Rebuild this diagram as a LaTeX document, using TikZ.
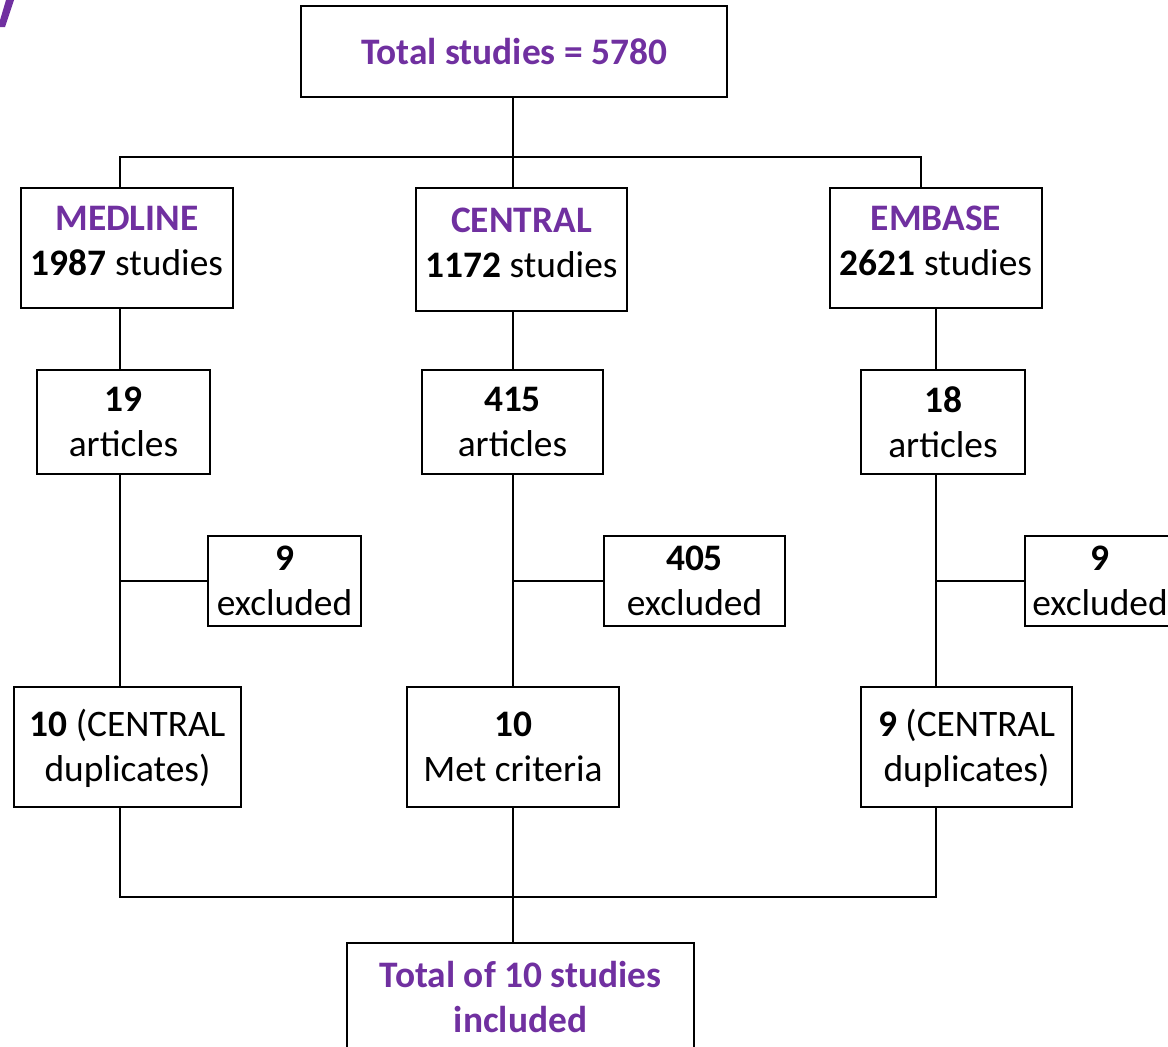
\documentclass[tikz,border=0pt]{standalone}
\usepackage{fontspec}
\setmainfont{Carlito}
\definecolor{titlepurple}{HTML}{7030A0}
\tikzset{
  box/.style={draw, line width=0.7pt, inner sep=0pt, align=center, font=\fontsize{18.7}{22.5}\selectfont},
  titlebox/.style={box, text=titlepurple, font=\fontsize{18.7}{22.5}\selectfont\bfseries},
  link/.style={line width=1pt},
}

\begin{document}
\begin{tikzpicture}[x=0.5pt,y=-0.5pt]
			\clip (0,0) rectangle (1168,1046);
			% Purple mark in the corner
			\fill[titlepurple] (6,0) -- (14,0) -- (5,27) -- (-2,27) -- cycle;

			% Columns and bars of the tree
			\coordinate (lcol) at (120,0);
			\coordinate (ccol) at (513,0);
			\coordinate (rcol) at (936,0);
			\coordinate (rtop) at (921,0);
			\coordinate (topbar) at (513,157);
			\coordinate (botbar) at (513,897);

			% Top box
			\node[titlebox, minimum width=213pt, minimum height=45.5pt] (total) at (514,51.5) {Total studies = 5780};

			% Databases
			\node[box, text depth=7pt, minimum width=106pt, minimum height=60pt] (medline) at (127,248) {\textcolor{titlepurple}{\bfseries MEDLINE}\\\textbf{1987} studies};
			\node[box, text depth=7pt, minimum width=105.5pt, minimum height=61.5pt] (central) at (521.5,249.5) {\textcolor{titlepurple}{\bfseries CENTRAL}\\\textbf{1172} studies};
			\node[box, text depth=7pt, minimum width=106pt, minimum height=60pt] (embase) at (936,248) {\textcolor{titlepurple}{\bfseries EMBASE}\\\textbf{2621} studies};

			% Articles
			\node[box, minimum width=86.5pt, minimum height=52pt] (art19) at (123.5,422) {\textbf{19}\\articles};
			\node[box, minimum width=90.5pt, minimum height=52pt] (art415) at (512.5,422) {\textbf{415}\\articles};
			\node[box, minimum width=82pt, minimum height=52pt] (art18) at (943,422) {\textbf{18}\\articles};

			% Excluded
			\node[box, minimum width=76.5pt, minimum height=45pt] (exc9) at (284.5,581) {\textbf{9}\\excluded};
			\node[box, minimum width=90.5pt, minimum height=45pt] (exc405) at (694.5,581) {\textbf{405}\\excluded};
			\node[box, minimum width=75pt, minimum height=45pt] (exc9b) at (1100,581) {\textbf{9}\\excluded};

			% Remaining
			\node[box, text depth=1.7pt, minimum width=113.5pt, minimum height=60pt] (dup10) at (127.5,747) {\textbf{10} (CENTRAL\\duplicates)};
			\node[box, minimum width=106pt, minimum height=60pt] (met10) at (513,747) {\textbf{10}\\Met criteria};
			\node[box, text depth=1.7pt, minimum width=105.5pt, minimum height=60pt] (dup9) at (966.5,747) {\textbf{9} (CENTRAL\\duplicates)};

			% Final box
			\node[titlebox, text depth=7pt, minimum width=173.5pt, minimum height=61pt] (final) at (520.5,1004) {Total of 10 studies\\included};

			% Connectors
			\draw[link] (total.south -| ccol) -- (central.north -| ccol);
			\draw[link] (medline.north -| lcol) -- (topbar -| lcol) -- (topbar -| rtop) -- (embase.north -| rtop);

			\draw[link] (medline.south -| lcol) -- (art19.north -| lcol);
			\draw[link] (central.south -| ccol) -- (art415.north -| ccol);
			\draw[link] (embase.south -| rcol) -- (art18.north -| rcol);

			\draw[link] (art19.south -| lcol) -- (dup10.north -| lcol);
			\draw[link] (art415.south -| ccol) -- (met10.north -| ccol);
			\draw[link] (art18.south -| rcol) -- (dup9.north -| rcol);

			\draw[link] (exc9.west) -- (exc9.west -| lcol);
			\draw[link] (exc405.west) -- (exc405.west -| ccol);
			\draw[link] (exc9b.west) -- (exc9b.west -| rcol);

			\draw[link] (dup10.south -| lcol) -- (botbar -| lcol) -- (botbar -| rcol) -- (dup9.south -| rcol);
			\draw[link] (met10.south -| ccol) -- (final.north -| ccol);
		\end{tikzpicture}
\end{document}
